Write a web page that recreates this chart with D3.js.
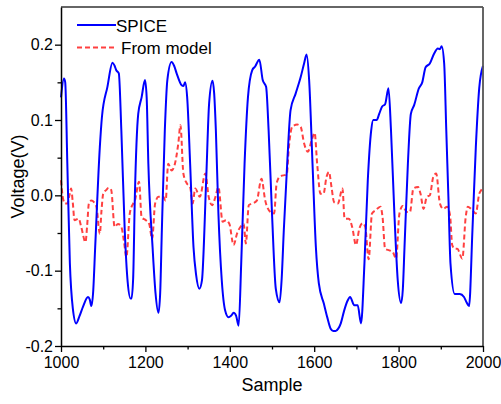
<!DOCTYPE html>
<html>
<head>
<meta charset="utf-8">
<script src="https://cdn.jsdelivr.net/npm/d3@7"></script>
<style>
  body { margin: 0; background: #fff; }
  svg { font-family: "Liberation Sans", Arial, sans-serif; }
</style>
</head>
<body>
<svg width="501" height="404"></svg>
<script>
'use strict'

var spiceSample = [1000, 1007, 1010, 1015, 1021, 1028, 1036, 1044, 1052, 1064, 1068, 1072, 1076, 1081, 1092, 1097, 1110, 1122, 1127, 1131, 1137, 1143, 1151, 1158, 1165, 1167, 1171, 1175, 1183, 1191, 1199, 1203, 1207, 1217, 1224, 1231, 1235, 1239, 1246, 1252, 1262, 1268, 1274, 1286, 1290, 1294, 1299, 1306, 1314, 1320, 1328, 1334, 1344, 1351, 1359, 1363, 1367, 1373, 1381, 1389, 1397, 1403, 1409, 1415, 1421, 1427, 1435, 1443, 1453, 1460, 1470, 1478, 1486, 1492, 1500, 1509, 1518, 1523, 1528, 1536, 1544, 1556, 1568, 1576, 1582, 1588, 1596, 1604, 1611, 1623, 1631, 1639, 1645, 1651, 1657, 1663, 1671, 1679, 1685, 1695, 1703, 1711, 1719, 1727, 1735, 1740, 1748, 1754, 1761, 1768, 1776, 1782, 1790, 1798, 1806, 1810, 1814, 1822, 1829, 1837, 1848, 1856, 1864, 1874, 1884, 1893, 1898, 1902, 1908, 1913, 1918, 1923, 1933, 1945, 1955, 1961, 1967, 1975, 1983, 1991, 2000]
var spiceVoltage = [0.130, 0.155, 0.150, 0.042, -0.090, -0.150, -0.170, -0.160, -0.148, -0.135, -0.138, -0.147, -0.130, -0.069, 0.064, 0.104, 0.144, 0.176, 0.172, 0.166, 0.162, 0.086, -0.046, -0.115, -0.137, -0.137, -0.110, -0.002, 0.108, 0.130, 0.153, 0.130, 0.042, -0.069, -0.130, -0.156, -0.130, -0.046, 0.086, 0.153, 0.177, 0.172, 0.162, 0.146, 0.145, 0.150, 0.130, 0.042, -0.069, -0.105, -0.124, -0.113, 0.020, 0.122, 0.152, 0.135, 0.086, -0.024, -0.113, -0.153, -0.162, -0.160, -0.156, -0.160, -0.173, -0.091, 0.042, 0.130, 0.166, 0.171, 0.180, 0.153, 0.144, 0.086, -0.024, -0.124, -0.142, -0.110, -0.046, 0.042, 0.113, 0.135, 0.157, 0.175, 0.187, 0.153, 0.042, -0.069, -0.117, -0.144, -0.162, -0.177, -0.180, -0.180, -0.177, -0.170, -0.153, -0.140, -0.135, -0.146, -0.146, -0.170, -0.091, 0.020, 0.086, 0.100, 0.100, 0.108, 0.118, 0.121, 0.142, 0.086, -0.024, -0.113, -0.143, -0.125, -0.069, 0.042, 0.108, 0.120, 0.142, 0.150, 0.170, 0.175, 0.188, 0.195, 0.194, 0.198, 0.175, 0.086, -0.002, -0.091, -0.131, -0.131, -0.135, -0.142, -0.147, -0.046, 0.064, 0.142, 0.172]

var modelSample = [1000, 1005, 1010, 1015, 1020, 1024, 1028, 1032, 1042, 1048, 1058, 1062, 1066, 1072, 1078, 1084, 1092, 1096, 1100, 1107, 1113, 1119, 1127, 1135, 1143, 1149, 1155, 1163, 1171, 1175, 1185, 1191, 1201, 1209, 1216, 1223, 1231, 1242, 1248, 1254, 1262, 1270, 1278, 1283, 1290, 1298, 1306, 1312, 1318, 1329, 1342, 1350, 1358, 1366, 1373, 1383, 1391, 1399, 1409, 1417, 1425, 1433, 1438, 1445, 1453, 1464, 1475, 1484, 1496, 1505, 1511, 1519, 1535, 1540, 1548, 1560, 1568, 1576, 1585, 1594, 1601, 1607, 1615, 1622, 1629, 1635, 1641, 1647, 1656, 1667, 1672, 1682, 1690, 1699, 1707, 1715, 1721, 1729, 1737, 1745, 1757, 1762, 1768, 1778, 1786, 1794, 1802, 1810, 1819, 1827, 1835, 1846, 1852, 1859, 1867, 1874, 1882, 1889, 1898, 1906, 1915, 1922, 1927, 1933, 1939, 1951, 1959, 1964, 1972, 1983, 1991, 1996, 2000]
var modelVoltage = [0.020, -0.005, -0.011, -0.011, 0.000, 0.009, -0.010, -0.033, -0.031, -0.042, -0.062, -0.040, -0.011, -0.007, -0.009, -0.015, -0.051, -0.020, 0.002, 0.007, 0.010, 0.007, -0.042, -0.038, -0.042, -0.060, -0.082, -0.024, -0.011, -0.007, 0.018, -0.029, -0.033, -0.038, -0.058, -0.011, -0.002, -0.002, -0.007, 0.042, 0.033, 0.042, 0.069, 0.093, 0.029, 0.016, 0.011, -0.011, 0.009, -0.002, 0.029, -0.002, -0.013, -0.002, 0.011, -0.035, -0.033, -0.038, -0.066, -0.051, -0.042, -0.038, -0.064, -0.013, -0.011, -0.007, 0.022, -0.007, -0.022, -0.024, 0.016, 0.025, 0.028, 0.064, 0.091, 0.094, 0.091, 0.069, 0.058, 0.073, 0.083, 0.042, 0.002, 0.002, 0.024, 0.031, 0.011, -0.009, -0.011, 0.009, -0.031, -0.031, -0.042, -0.066, -0.044, -0.037, -0.042, -0.085, -0.024, -0.020, -0.015, -0.029, -0.071, -0.073, -0.075, -0.084, -0.024, -0.014, -0.022, -0.022, 0.009, 0.011, 0.002, -0.018, -0.002, 0.000, 0.024, 0.029, -0.011, -0.018, -0.015, -0.027, -0.066, -0.071, -0.071, -0.084, -0.029, -0.015, -0.018, -0.024, 0.002, 0.007, 0.010]

var xMajor = [1000, 1200, 1400, 1600, 1800, 2000]
var xMinor = [1100, 1300, 1500, 1700, 1900]
var yMajor = [-0.2, -0.1, 0.0, 0.1, 0.2]
var yMinor = [-0.15, -0.05, 0.05, 0.15]

var svg = d3.select('svg')
var margin = { left: 61, right: 18, top: 7, bottom: 58 }
var width = +svg.attr('width'), height = +svg.attr('height')

var x = d3.scaleLinear().domain([1000, 2000]).range([margin.left, width - margin.right])
var y = d3.scaleLinear().domain([-0.2, 0.25]).range([height - margin.bottom, margin.top])

var spice = spiceSample.map(function(s, i) { return [s, spiceVoltage[i]] })
var model = modelSample.map(function(s, i) { return [s, modelVoltage[i]] })

var line = d3.line()
  .x(function(d) { return x(d[0]) })
  .y(function(d) { return y(d[1]) })
  .curve(d3.curveMonotoneX)

svg.append('path')
  .datum(model)
  .attr('d', line)
  .attr('fill', 'none')
  .attr('stroke', '#ff4040')
  .attr('stroke-width', 2)
  .attr('stroke-dasharray', '5,3')

svg.append('path')
  .datum(spice)
  .attr('d', line)
  .attr('fill', 'none')
  .attr('stroke', '#0000ff')
  .attr('stroke-width', 2)

// frame: top and right
svg.append('line')
  .attr('x1', x.range()[0]).attr('x2', x.range()[1])
  .attr('y1', y.range()[1]).attr('y2', y.range()[1])
  .attr('stroke', '#333').attr('stroke-width', 1.5)
svg.append('line')
  .attr('x1', x.range()[1]).attr('x2', x.range()[1])
  .attr('y1', y.range()[0]).attr('y2', y.range()[1])
  .attr('stroke', '#555').attr('stroke-width', 1.8)

var fmtY = function(d) { return d.toFixed(1) }
var fmtX = function(d) { return String(d) }

svg.append('g')
  .attr('transform', 'translate(0,' + y.range()[0] + ')')
  .call(d3.axisBottom(x).tickValues(xMajor).tickFormat(fmtX).tickSize(6).tickSizeOuter(0).tickPadding(5))
svg.append('g')
  .attr('transform', 'translate(0,' + y.range()[0] + ')')
  .call(d3.axisBottom(x).tickValues(xMinor).tickSize(3.5).tickFormat(''))
  .select('.domain').remove()

svg.append('g')
  .attr('transform', 'translate(' + x.range()[0] + ',0)')
  .call(d3.axisLeft(y).tickValues(yMajor).tickFormat(fmtY).tickSize(6).tickSizeOuter(0).tickPadding(2))
svg.append('g')
  .attr('transform', 'translate(' + x.range()[0] + ',0)')
  .call(d3.axisLeft(y).tickValues(yMinor).tickSize(3.5).tickFormat(''))
  .select('.domain').remove()

svg.selectAll('.tick line').attr('stroke', '#000').attr('stroke-width', 1.3)
svg.selectAll('.domain').attr('stroke', '#000').attr('stroke-width', 1.5)
svg.selectAll('.tick text')
  .attr('fill', '#000')
  .style('font-size', '16px')
  .style('font-family', '"Liberation Sans", Arial, sans-serif')

svg.append('text')
  .attr('x', (x.range()[0] + x.range()[1]) / 2)
  .attr('y', 391)
  .attr('text-anchor', 'middle')
  .style('font-size', '18px')
  .text('Sample')

svg.append('text')
  .attr('transform', 'translate(24,' + ((y.range()[0] + y.range()[1]) / 2) + ') rotate(-90)')
  .attr('text-anchor', 'middle')
  .style('font-size', '18px')
  .text('Voltage(V)')

// legend
var legend = svg.append('g')
legend.append('line')
  .attr('x1', 77).attr('x2', 116).attr('y1', 25).attr('y2', 25)
  .attr('stroke', '#0000ff').attr('stroke-width', 2)
legend.append('text')
  .attr('x', 116).attr('y', 32)
  .style('font-size', '17px')
  .text('SPICE')
legend.append('line')
  .attr('x1', 77).attr('x2', 117).attr('y1', 47.5).attr('y2', 47.5)
  .attr('stroke', '#ff4040').attr('stroke-width', 2)
  .attr('stroke-dasharray', '5,3')
legend.append('text')
  .attr('x', 121).attr('y', 54)
  .style('font-size', '17px')
  .text('From model')
</script>
</body>
</html>
